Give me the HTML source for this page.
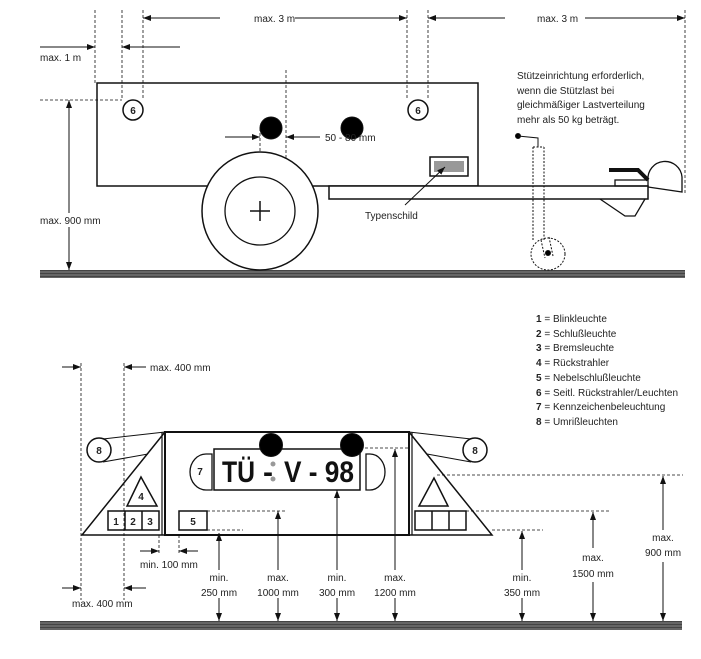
<!DOCTYPE html>
<html><head><meta charset="utf-8"><style>
html,body{margin:0;padding:0;background:#fff;width:701px;height:659px;overflow:hidden}
svg{display:block}
text{font-family:"Liberation Sans Narrow","Liberation Sans",sans-serif;font-size:10px;fill:#222}
</style></head><body>
<svg width="701" height="659" viewBox="0 0 701 659" xmlns="http://www.w3.org/2000/svg">
<defs>
<marker id="a" markerWidth="8" markerHeight="6" refX="8" refY="3" orient="auto" markerUnits="userSpaceOnUse"><path d="M0,0 L8,3 L0,6 z" fill="#111"/></marker>
<pattern id="g" width="4" height="3" patternUnits="userSpaceOnUse"><rect width="4" height="3" fill="#666"/><rect width="4" height="1" fill="#444"/></pattern>
</defs>
<g stroke="#111" fill="none" stroke-width="1">
<!-- TOP -->
<rect x="40" y="270" width="645" height="8" fill="url(#g)" stroke="none"/>
<g stroke-dasharray="3,2" stroke-width="0.8">
<line x1="95" y1="10" x2="95" y2="83"/><line x1="122" y1="10" x2="122" y2="100"/><line x1="143" y1="10" x2="143" y2="100"/>
<line x1="407" y1="10" x2="407" y2="100"/><line x1="428" y1="10" x2="428" y2="100"/><line x1="685" y1="10" x2="685" y2="195"/>
<line x1="40" y1="100" x2="122" y2="100"/>
<line x1="260" y1="128" x2="260" y2="211"/><line x1="286" y1="70" x2="286" y2="210"/>
</g>
<line x1="220" y1="18" x2="143" y2="18" marker-end="url(#a)"/><line x1="295" y1="18" x2="407" y2="18" marker-end="url(#a)"/>
<line x1="505" y1="18" x2="428" y2="18" marker-end="url(#a)"/><line x1="585" y1="18" x2="685" y2="18" marker-end="url(#a)"/>
<line x1="40" y1="47" x2="95" y2="47" marker-end="url(#a)"/><line x1="180" y1="47" x2="122" y2="47" marker-end="url(#a)"/>
<line x1="69" y1="185" x2="69" y2="100" marker-end="url(#a)"/><line x1="69" y1="185" x2="69" y2="270" marker-end="url(#a)"/>
<line x1="225" y1="137" x2="260" y2="137" marker-end="url(#a)"/><line x1="320" y1="137" x2="286" y2="137" marker-end="url(#a)"/>
<rect x="97" y="83" width="381" height="103" stroke-width="1.5"/>
<rect x="329" y="186" width="319" height="13" stroke-width="1.5" fill="#fff"/>
<ellipse cx="260" cy="211" rx="58" ry="59" stroke-width="1.5" fill="#fff"/>
<ellipse cx="260" cy="211" rx="35" ry="34" stroke-width="1.3"/>
<line x1="250" y1="211" x2="270" y2="211" stroke-width="1.5"/><line x1="260" y1="201" x2="260" y2="221" stroke-width="1.5"/>
<circle cx="133" cy="110" r="10" stroke-width="1.5" fill="#fff"/><circle cx="418" cy="110" r="10" stroke-width="1.5" fill="#fff"/>
<circle cx="271" cy="128" r="11" fill="#000"/><circle cx="352" cy="128" r="11" fill="#000"/>
<rect x="430" y="157" width="38" height="19" stroke-width="1.5"/>
<rect x="434" y="161" width="30" height="11" fill="#999" stroke="none"/>
<line x1="405" y1="205" x2="445" y2="167" marker-end="url(#a)"/>
<!-- jockey -->
<g stroke-dasharray="2,1.5"><line x1="533" y1="147" x2="533" y2="240"/><line x1="544" y1="147" x2="544" y2="240"/><line x1="533" y1="147" x2="544" y2="147"/>
<ellipse cx="548" cy="254" rx="17" ry="16"/><line x1="541" y1="240" x2="545" y2="258"/><line x1="549" y1="237" x2="553" y2="256"/></g>
<circle cx="548" cy="253" r="2.5" fill="#000"/>
<circle cx="518" cy="136" r="2.5" fill="#000"/><polyline points="518,136 538,138 538,147"/>
<polyline points="600,199 625,216 635,216 645,199" stroke-width="1.3"/>
<polyline points="609,170 638,170 648,180" stroke-width="4"/>
<rect x="615" y="180" width="33" height="6" stroke-width="1.3"/>
<path d="M648,180 A17,17 0 0 1 682,177 L682,192 L648,187" stroke-width="1.3"/>
<!-- BOTTOM -->
<rect x="40" y="621" width="642" height="9" fill="url(#g)" stroke="none"/>
<g stroke-dasharray="3,2" stroke-width="0.8">
<line x1="81" y1="363" x2="81" y2="600"/><line x1="124" y1="363" x2="124" y2="600"/>
<line x1="207" y1="511" x2="286" y2="511"/><line x1="207" y1="530" x2="243" y2="530"/>
<line x1="466" y1="511" x2="611" y2="511"/><line x1="492" y1="530" x2="543" y2="530"/>
<line x1="437" y1="475" x2="683" y2="475"/><line x1="365" y1="448" x2="408" y2="448"/>
<line x1="159" y1="535" x2="159" y2="555"/><line x1="179" y1="535" x2="179" y2="555"/>
</g>
<line x1="62" y1="367" x2="81" y2="367" marker-end="url(#a)"/><line x1="146" y1="367" x2="124" y2="367" marker-end="url(#a)"/>
<line x1="62" y1="588" x2="81" y2="588" marker-end="url(#a)"/><line x1="146" y1="588" x2="124" y2="588" marker-end="url(#a)"/>
<line x1="140" y1="551" x2="159" y2="551" marker-end="url(#a)"/><line x1="198" y1="551" x2="179" y2="551" marker-end="url(#a)"/>
<g>
<line x1="219" y1="570" x2="219" y2="533" marker-end="url(#a)"/><line x1="219" y1="598" x2="219" y2="621" marker-end="url(#a)"/>
<line x1="278" y1="570" x2="278" y2="511" marker-end="url(#a)"/><line x1="278" y1="598" x2="278" y2="621" marker-end="url(#a)"/>
<line x1="337" y1="570" x2="337" y2="490" marker-end="url(#a)"/><line x1="337" y1="598" x2="337" y2="621" marker-end="url(#a)"/>
<line x1="395" y1="570" x2="395" y2="449" marker-end="url(#a)"/><line x1="395" y1="598" x2="395" y2="621" marker-end="url(#a)"/>
<line x1="522" y1="570" x2="522" y2="531" marker-end="url(#a)"/><line x1="522" y1="598" x2="522" y2="621" marker-end="url(#a)"/>
<line x1="593" y1="548" x2="593" y2="512" marker-end="url(#a)"/><line x1="593" y1="582" x2="593" y2="621" marker-end="url(#a)"/>
<line x1="663" y1="530" x2="663" y2="476" marker-end="url(#a)"/><line x1="663" y1="562" x2="663" y2="621" marker-end="url(#a)"/>
</g>
<rect x="165" y="432" width="244" height="103" stroke-width="2"/>
<polyline points="165,432 82,535 165,535" stroke-width="1.5"/>
<polyline points="409,432 492,535 409,535" stroke-width="1.5"/>
<line x1="162" y1="432" x2="162" y2="535" stroke-width="1.2"/><line x1="412" y1="432" x2="412" y2="535" stroke-width="1.2"/>
<line x1="103" y1="439" x2="165" y2="432"/><line x1="103" y1="462" x2="148" y2="454"/>
<line x1="471" y1="439" x2="409" y2="432"/><line x1="471" y1="462" x2="427" y2="454"/>
<circle cx="99" cy="450" r="12" stroke-width="1.5" fill="#fff"/><circle cx="475" cy="450" r="12" stroke-width="1.5" fill="#fff"/>
<rect x="214" y="449" width="146" height="41" stroke-width="1.5"/>
<path d="M366,454 L370,454 A15,18 0 0 1 370,490 L366,490 Z" stroke-width="1.3"/>
<path d="M206,454 A16,18 0 0 0 206,490 L212,490 L212,454 Z" stroke-width="1.3" fill="#fff"/>
<circle cx="271" cy="445" r="11.5" fill="#000"/><circle cx="352" cy="445" r="11.5" fill="#000"/>
<polygon points="141,477 127,506 157,506" stroke-width="1.5"/>
<polygon points="434,478 419,506 448,506" stroke-width="1.5"/>
<rect x="108" y="511" width="51" height="19" stroke-width="1.5"/><line x1="125" y1="511" x2="125" y2="530" stroke-width="1.5"/><line x1="142" y1="511" x2="142" y2="530" stroke-width="1.5"/>
<rect x="415" y="511" width="51" height="19" stroke-width="1.5"/><line x1="432" y1="511" x2="432" y2="530" stroke-width="1.5"/><line x1="449" y1="511" x2="449" y2="530" stroke-width="1.5"/>
<rect x="179" y="511" width="28" height="19" stroke-width="1.5"/>
<circle cx="273" cy="464" r="2.5" fill="#999" stroke="none"/><circle cx="273" cy="479" r="2.5" fill="#999" stroke="none"/>
</g>
<!-- text -->
<text x="254" y="22">max. 3 m</text><text x="537" y="22">max. 3 m</text>
<text x="40" y="61">max. 1 m</text>
<rect x="40" y="213" width="60" height="14" fill="#fff"/>
<text x="40" y="224">max. 900 mm</text>
<text x="325" y="141">50 - 80 mm</text><text x="365" y="219">Typenschild</text>
<text x="517" y="79">Stützeinrichtung erforderlich,</text>
<text x="517" y="94">wenn die Stützlast bei</text>
<text x="517" y="108">gleichmäßiger Lastverteilung</text>
<text x="517" y="123">mehr als 50 kg beträgt.</text>
<g text-anchor="middle">
<text x="133" y="114" style="font-weight:bold">6</text><text x="418" y="114" style="font-weight:bold">6</text>
<text x="99" y="454" style="font-weight:bold">8</text><text x="475" y="454" style="font-weight:bold">8</text>
<text x="200" y="475" style="font-weight:bold">7</text>
<text x="141" y="500" style="font-weight:bold">4</text>
<text x="116" y="525" style="font-weight:bold">1</text><text x="133" y="525" style="font-weight:bold">2</text><text x="150" y="525" style="font-weight:bold">3</text>
<text x="193" y="525" style="font-weight:bold">5</text>
</g>
<text x="222" y="482" textLength="33" lengthAdjust="spacingAndGlyphs" style="font-size:30px;font-weight:bold;fill:#111">TÜ</text>
<text x="263" y="482" style="font-size:30px;font-weight:bold;fill:#111">-</text>
<text x="284" y="482" textLength="70" lengthAdjust="spacingAndGlyphs" style="font-size:30px;font-weight:bold;fill:#111">V - 98</text>
<text x="150" y="371">max. 400 mm</text><text x="72" y="607">max. 400 mm</text>
<text x="140" y="568">min. 100 mm</text>
<g text-anchor="middle">
<text x="219" y="581">min.</text><text x="219" y="596">250 mm</text>
<text x="278" y="581">max.</text><text x="278" y="596">1000 mm</text>
<text x="337" y="581">min.</text><text x="337" y="596">300 mm</text>
<text x="395" y="581">max.</text><text x="395" y="596">1200 mm</text>
<text x="522" y="581">min.</text><text x="522" y="596">350 mm</text>
<text x="593" y="561">max.</text><text x="593" y="577">1500 mm</text>
<text x="663" y="541">max.</text><text x="663" y="556">900 mm</text>
</g>
<text x="536" y="322"><tspan font-weight="bold">1</tspan> = Blinkleuchte</text>
<text x="536" y="337"><tspan font-weight="bold">2</tspan> = Schlußleuchte</text>
<text x="536" y="351"><tspan font-weight="bold">3</tspan> = Bremsleuchte</text>
<text x="536" y="366"><tspan font-weight="bold">4</tspan> = Rückstrahler</text>
<text x="536" y="381"><tspan font-weight="bold">5</tspan> = Nebelschlußleuchte</text>
<text x="536" y="396"><tspan font-weight="bold">6</tspan> = Seitl. Rückstrahler/Leuchten</text>
<text x="536" y="410"><tspan font-weight="bold">7</tspan> = Kennzeichenbeleuchtung</text>
<text x="536" y="425"><tspan font-weight="bold">8</tspan> = Umrißleuchten</text>
</svg>
</body></html>
